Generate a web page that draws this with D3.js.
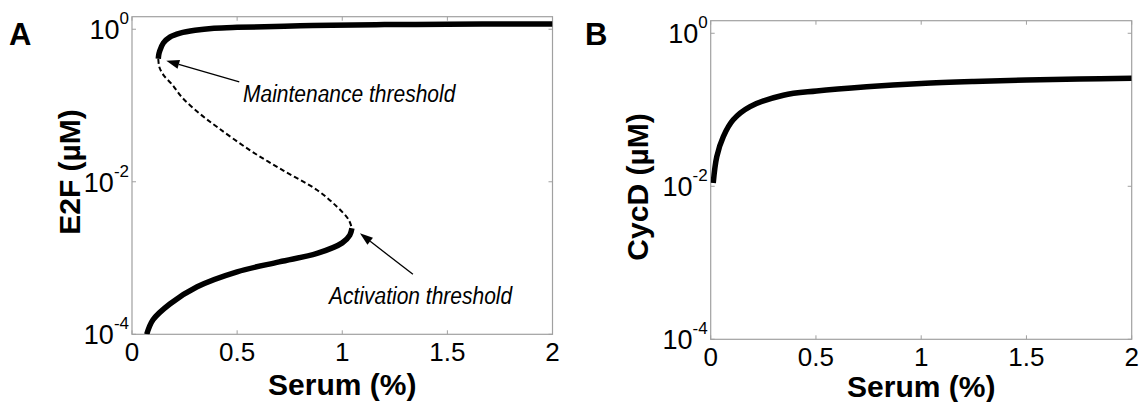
<!DOCTYPE html>
<html>
<head>
<meta charset="utf-8">
<script src="https://cdn.jsdelivr.net/npm/d3@7"></script>
<style>
body { margin: 0; background: #fff; }
svg { display: block; }
</style>
</head>
<body>
<script>
// A: E2F steady states vs serum (upper stable, unstable, lower stable)
var serumHigh = [0.125, 0.127, 0.131, 0.149, 0.18, 0.229, 0.3, 0.39, 0.5, 0.63, 0.8, 0.95, 1.2, 1.5, 1.75, 2.0];
var e2fHigh   = [0.41, 0.46, 0.51, 0.66, 0.79, 0.89, 0.97, 1.03, 1.06, 1.08, 1.11, 1.13, 1.15, 1.16, 1.17, 1.17];

var serumMid = [0.125, 0.13, 0.15, 0.19, 0.24, 0.32, 0.41, 0.56, 0.72, 0.88, 0.975, 1.03, 1.046];
var e2fMid   = [0.41, 0.32, 0.25, 0.19, 0.126, 0.079, 0.051, 0.026, 0.014, 0.0078, 0.0047, 0.0032, 0.00245];

var serumLow = [0.07, 0.10, 0.18, 0.31, 0.50, 0.70, 0.88, 1.0, 1.036, 1.046];
var e2fLow   = [0.0001, 0.000155, 0.00025, 0.00042, 0.00066, 0.00089, 0.00115, 0.00158, 0.002, 0.00245];

// B: CycD vs serum
var serumB = [0.012, 0.029, 0.06, 0.107, 0.187, 0.345, 0.503, 0.741, 1.0, 1.25, 1.5, 1.75, 2.0];
var cycD   = [0.011, 0.0245, 0.0447, 0.074, 0.11, 0.155, 0.176, 0.1995, 0.22, 0.234, 0.245, 0.253, 0.258];

var xTicks = [0, 0.5, 1, 1.5, 2];
var yTicks = [1e-4, 1e-2, 1];
var yExp = ["-4", "-2", "0"];
var xDomain = [0, 2];
var yDomain = [1e-4, 1.46];

var font = "'Liberation Sans', Arial, sans-serif";
var boxColor = "#a0a0a0";

var svg = d3.select("body").append("svg")
    .attr("width", 1145)
    .attr("height", 402);

function zip(xs, ys) {
    return xs.map(function(d, i) { return [d, ys[i]]; });
}

function panel(o) {
    var left = o.left, right = o.right, top = o.top, bottom = o.bottom;
    var x = d3.scaleLinear().domain(xDomain).range([left, right]);
    var y = d3.scaleLog().domain(yDomain).range([bottom, top]);
    var g = svg.append("g");

    // ticks inside the box, on all four sides
    xTicks.forEach(function(t) {
        g.append("line").attr("x1", x(t)).attr("x2", x(t)).attr("y1", bottom).attr("y2", bottom - 4)
            .style("stroke", boxColor);
        g.append("line").attr("x1", x(t)).attr("x2", x(t)).attr("y1", top).attr("y2", top + 4)
            .style("stroke", boxColor);
        g.append("text")
            .attr("x", x(t)).attr("y", bottom + 27)
            .attr("text-anchor", "middle")
            .style("font-family", font).style("font-size", "26px")
            .text(t);
    });
    yTicks.forEach(function(t, i) {
        g.append("line").attr("x1", left).attr("x2", left + 4).attr("y1", y(t)).attr("y2", y(t))
            .style("stroke", boxColor);
        g.append("line").attr("x1", right).attr("x2", right - 4).attr("y1", y(t)).attr("y2", y(t))
            .style("stroke", boxColor);
        var lab = g.append("text")
            .attr("x", left - 3).attr("y", y(t) + 10)
            .attr("text-anchor", "end")
            .style("font-family", font).style("font-size", "27px");
        lab.append("tspan").text("10");
        lab.append("tspan").attr("dy", -15).style("font-size", "17px").text(yExp[i]);
    });

    g.append("rect")
        .attr("x", left).attr("y", top)
        .attr("width", right - left).attr("height", bottom - top)
        .style("fill", "none").style("stroke", boxColor).style("stroke-width", 1.2);

    g.append("text")
        .attr("x", (left + right) / 2).attr("y", o.xlabY)
        .attr("text-anchor", "middle")
        .style("font-family", font).style("font-size", "30px").style("font-weight", "bold")
        .text("Serum (%)");

    g.append("text")
        .attr("transform", "translate(" + o.ylabX + "," + o.ylabY + ") rotate(-90)")
        .attr("text-anchor", "middle")
        .style("font-family", font).style("font-size", "30px").style("font-weight", "bold")
        .text(o.ylabel);

    g.append("text")
        .attr("x", o.letterX).attr("y", 45)
        .style("font-family", font).style("font-size", "31px").style("font-weight", "bold")
        .text(o.letter);

    return { x: x, y: y, g: g, top: top, bottom: bottom, left: left, right: right };
}

function curve(p, pts, width, dash) {
    var clipId = "clip" + Math.round(p.left);
    if (!document.getElementById(clipId)) {
        p.g.append("clipPath").attr("id", clipId)
            .append("rect").attr("x", p.left).attr("y", p.top)
            .attr("width", p.right - p.left).attr("height", p.bottom - p.top);
    }
    var line = d3.line()
        .x(function(d) { return p.x(d[0]); })
        .y(function(d) { return p.y(d[1]); })
        .curve(d3.curveCatmullRom.alpha(0.5));
    var path = p.g.append("path")
        .datum(pts)
        .attr("d", line)
        .attr("clip-path", "url(#" + clipId + ")")
        .style("fill", "none")
        .style("stroke", "#000")
        .style("stroke-width", width)
        .style("stroke-linejoin", "round");
    if (dash) path.style("stroke-dasharray", dash);
}

function arrow(p, x1, y1, x2, y2) {
    var ang = Math.atan2(y2 - y1, x2 - x1);
    var len = 13, half = 4.5;
    var bx = x2 - len * Math.cos(ang), by = y2 - len * Math.sin(ang);
    p.g.append("line")
        .attr("x1", x1).attr("y1", y1).attr("x2", bx).attr("y2", by)
        .style("stroke", "#000").style("stroke-width", 1.3);
    p.g.append("path")
        .attr("d", "M" + x2 + "," + y2 +
            "L" + (bx + half * Math.sin(ang)) + "," + (by - half * Math.cos(ang)) +
            "L" + (bx - half * Math.sin(ang)) + "," + (by + half * Math.cos(ang)) + "Z")
        .style("fill", "#000");
}

function note(p, x, y, txt) {
    p.g.append("text")
        .attr("transform", "translate(" + x + "," + y + ") scale(1,1.12)")
        .style("font-family", font).style("font-size", "21px").style("font-style", "italic")
        .text(txt);
}

// panel A
var pA = panel({ left: 132, right: 552.5, top: 16.7, bottom: 334.3,
    ylabel: "E2F (\u00b5M)", ylabX: 80, ylabY: 172, xlabY: 395, letter: "A", letterX: 9 });
curve(pA, zip(serumMid, e2fMid), 2, "5,3");
curve(pA, zip(serumHigh, e2fHigh), 5.5);
curve(pA, zip(serumLow, e2fLow), 5.5);

var fold1 = [pA.x(serumHigh[0]), pA.y(e2fHigh[0])];
var fold2 = [pA.x(serumLow[serumLow.length - 1]), pA.y(e2fLow[e2fLow.length - 1])];
arrow(pA, fold1[0] + 81, fold1[1] + 23, fold1[0] + 8, fold1[1] + 2);
arrow(pA, fold2[0] + 61, fold2[1] + 46, fold2[0] + 8, fold2[1] + 5);

note(pA, 243, 102, "Maintenance threshold");
note(pA, 329, 304, "Activation threshold");

// panel B
var pB = panel({ left: 710.7, right: 1131.7, top: 20.7, bottom: 339.3,
    ylabel: "CycD (\u00b5M)", ylabX: 648, ylabY: 187, xlabY: 397, letter: "B", letterX: 585 });
curve(pB, zip(serumB, cycD), 5.5);
</script>
</body>
</html>
